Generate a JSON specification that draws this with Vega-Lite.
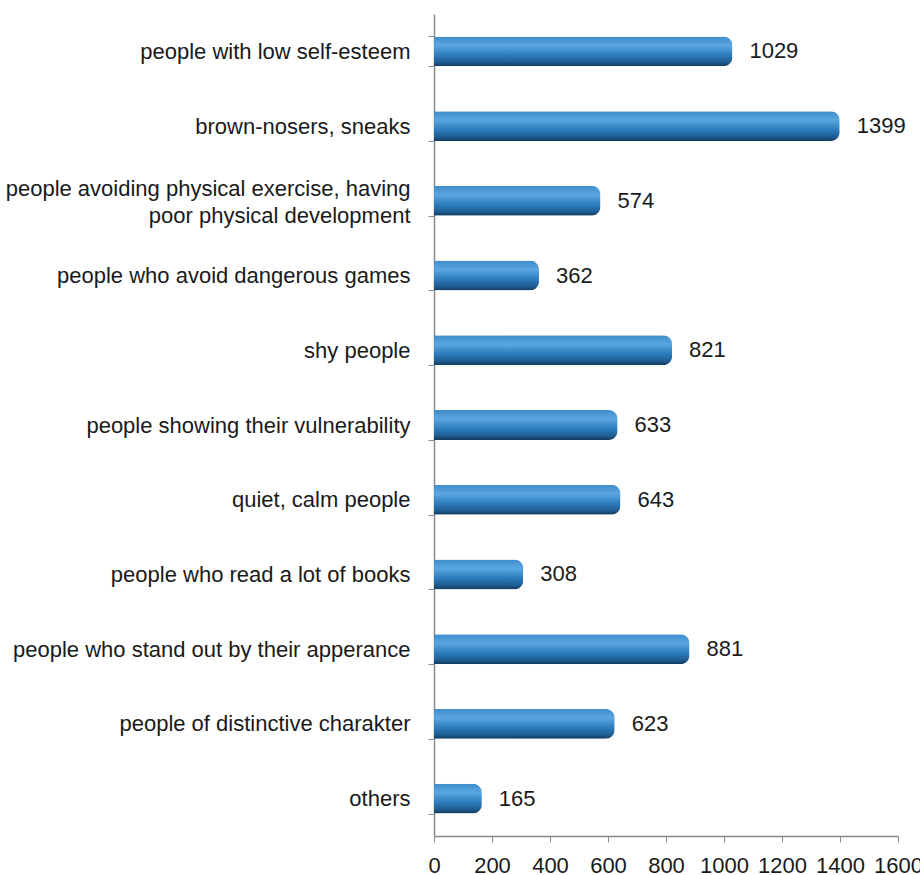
{
  "$schema": "https://vega.github.io/schema/vega-lite/v6.json",
  "autosize": {"type": "none"},
  "width": 464,
  "height": 822,
  "padding": {"left": 434, "top": 14, "right": 22, "bottom": 39},
  "background": "white",
  "config": {"view": {"stroke": null}, "font": "Liberation Sans"},
  "data": {
    "values": [
      {"category": "people with low self-esteem", "value": 1029},
      {"category": "brown-nosers, sneaks", "value": 1399},
      {"category": "people avoiding physical exercise, having poor physical development", "value": 574},
      {"category": "people who avoid dangerous games", "value": 362},
      {"category": "shy people", "value": 821},
      {"category": "people showing their vulnerability", "value": 633},
      {"category": "quiet, calm people", "value": 643},
      {"category": "people who read a lot of books", "value": 308},
      {"category": "people who stand out by their apperance", "value": 881},
      {"category": "people of distinctive charakter", "value": 623},
      {"category": "others", "value": 165}
    ]
  },
  "encoding": {
    "y": {
      "field": "category",
      "type": "nominal",
      "sort": null,
      "scale": {"paddingInner": 0.6, "paddingOuter": 0.3},
      "axis": {
        "title": null,
        "tickBand": "extent",
        "labelFontSize": 22,
        "labelColor": "#1a1a1a",
        "labelPadding": 18,
        "labelLimit": 500,
        "tickSize": 6,
        "tickColor": "#8a8a8a",
        "domainColor": "#8a8a8a",
        "domainWidth": 1.5,
        "labelExpr": "datum.value == 'people avoiding physical exercise, having poor physical development' ? ['people avoiding physical exercise, having', 'poor physical development'] : datum.value",
        "labelLineHeight": 27,
        "labelOffset": {"condition": {"test": "datum.value == 'people avoiding physical exercise, having poor physical development'", "value": -12}, "value": 0}
      }
    },
    "x": {
      "field": "value",
      "type": "quantitative",
      "scale": {"domain": [0, 1600], "nice": false},
      "axis": {
        "title": null,
        "values": [0, 200, 400, 600, 800, 1000, 1200, 1400, 1600],
        "format": "d",
        "grid": false,
        "labelFontSize": 22,
        "labelColor": "#1a1a1a",
        "labelPadding": 13,
        "labelFlush": false,
        "labelOverlap": false,
        "tickSize": 6,
        "tickColor": "#8a8a8a",
        "domainColor": "#8a8a8a",
        "domainWidth": 1.5
      }
    }
  },
  "layer": [
    {
      "mark": {
        "type": "bar",
        "cornerRadiusEnd": 9,
        "color": {
          "gradient": "linear",
          "x1": 0, "y1": 0, "x2": 0, "y2": 1,
          "stops": [
            {"offset": 0, "color": "#3d8ccc"},
            {"offset": 0.3, "color": "#5aa7e0"},
            {"offset": 0.6, "color": "#2f7fc0"},
            {"offset": 0.85, "color": "#1f5f95"},
            {"offset": 1, "color": "#123a5c"}
          ]
        }
      }
    },
    {
      "mark": {"type": "text", "align": "left", "baseline": "middle", "dx": 17, "fontSize": 22, "color": "#1a1a1a"},
      "encoding": {"text": {"field": "value", "type": "quantitative"}}
    }
  ]
}
